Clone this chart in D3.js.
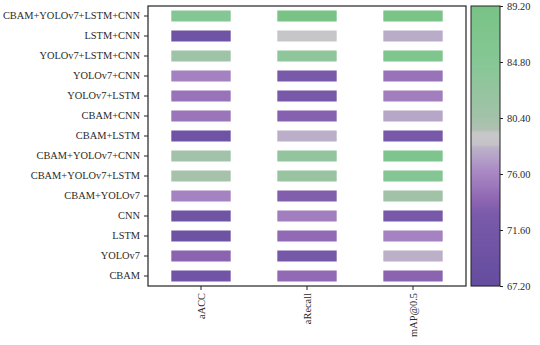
<!DOCTYPE html>
<html><head><meta charset="utf-8">
<script src="https://cdn.jsdelivr.net/npm/d3@7"></script>
<style>body{margin:0;background:#fff}svg{display:block}svg text{font-family:"Liberation Serif","Times New Roman",Times,serif !important}</style>
</head><body><svg id="c" width="540" height="345"></svg>
<script>
const models = ["CBAM+YOLOv7+LSTM+CNN","LSTM+CNN","YOLOv7+LSTM+CNN","YOLOv7+CNN","YOLOv7+LSTM","CBAM+CNN","CBAM+LSTM","CBAM+YOLOv7+CNN","CBAM+YOLOv7+LSTM","CBAM+YOLOv7","CNN","LSTM","YOLOv7","CBAM"];
const metrics = ["aACC","aRecall","mAP@0.5"];
const aACC    = [85.0,70.0,81.0,75.7,74.8,74.9,70.0,80.5,80.2,75.8,70.2,69.8,73.8,70.5];
const aRecall = [89.0,78.7,83.5,72.5,72.2,73.5,77.9,83.0,82.0,73.3,75.5,74.2,71.8,74.2];
const mAP     = [88.5,77.8,87.0,74.8,75.5,77.5,72.3,87.2,85.5,80.6,72.2,75.8,78.0,73.8];
const cbTicks = [89.20,84.80,80.40,76.00,71.60,67.20];
const cbDomain = [67.2, 89.2];
const stopVals = [67.2,72.8,74.0,75.2,76.2,77.3,78.1,78.3,79.2,79.5,80.4,84.8,89.2];
const stopCols = ["#644c9e","#7a5aaa","#8e66b2","#9e7abc","#aa88c4","#b4a2c8","#bcb2c8","#c4c2c8","#c8c8c8","#b0c0b2","#a3c2a9","#86c795","#78c386"];

const series = [aACC, aRecall, mAP];
const color = d3.scaleLinear().domain(stopVals).range(stopCols).clamp(true);

const svg = d3.select("#c");
const L = 148, R = 466, T = 6, B = 286;
const FS = 10.4;
const x = d3.scaleBand().domain(metrics).range([L, R]).paddingInner(0.44).paddingOuter(0.22);
const y = d3.scaleBand().domain(models).range([T, B]).paddingInner(0.45).paddingOuter(0.225);

const cells = [];
metrics.forEach((m, j) => models.forEach((n, i) => cells.push({m, n, v: series[j][i]})));
svg.append("g").selectAll("rect").data(cells).join("rect")
  .attr("x", d => x(d.m)).attr("y", d => y(d.n))
  .attr("width", x.bandwidth()).attr("height", y.bandwidth())
  .attr("fill", d => color(d.v));

// frame
svg.append("rect").attr("x", L).attr("y", T).attr("width", R - L).attr("height", B - T)
  .attr("fill", "none").attr("stroke", "#222").attr("stroke-width", 1.2);

const yAx = svg.append("g").attr("transform", `translate(${L},0)`)
  .call(d3.axisLeft(y).tickSize(4).tickSizeOuter(0));
yAx.attr("font-family", null);
yAx.select(".domain").remove();
yAx.selectAll("text").attr("font-size", FS).attr("fill", "#2a2a2a").attr("dx", "-1");
yAx.selectAll("line").attr("stroke", "#222");

const xAx = svg.append("g").attr("transform", `translate(0,${B})`)
  .call(d3.axisBottom(x).tickSize(4).tickSizeOuter(0));
xAx.attr("font-family", null);
xAx.select(".domain").remove();
xAx.selectAll("line").attr("stroke", "#222");
xAx.selectAll("text").attr("font-size", FS).attr("fill", "#2a2a2a")
  .attr("transform", "rotate(-90)").attr("text-anchor", "end")
  .attr("x", -7).attr("y", 0).attr("dy", "0.35em");

// colorbar
const cbX = 471, cbW = 29;
const cy = d3.scaleLinear().domain(cbDomain).range([B, T]);
const steps = d3.range(0, 280);
svg.append("g").selectAll("rect").data(steps).join("rect")
  .attr("x", cbX).attr("width", cbW)
  .attr("y", s => T + s).attr("height", 1.2)
  .attr("fill", s => color(cy.invert(T + s + 0.5)));
svg.append("rect").attr("x", cbX).attr("y", T).attr("width", cbW).attr("height", B - T)
  .attr("fill", "none").attr("stroke", "#222").attr("stroke-width", 1);
const cAx = svg.append("g").attr("transform", `translate(${cbX + cbW},0)`)
  .call(d3.axisRight(cy).tickValues(cbTicks).tickFormat(d3.format(".2f")).tickSize(3).tickSizeOuter(0));
cAx.attr("font-family", null);
cAx.select(".domain").remove();
cAx.selectAll("line").attr("stroke", "#222");
cAx.selectAll("text").attr("font-size", FS).attr("fill", "#2a2a2a").attr("x", 7);
</script></body></html>
